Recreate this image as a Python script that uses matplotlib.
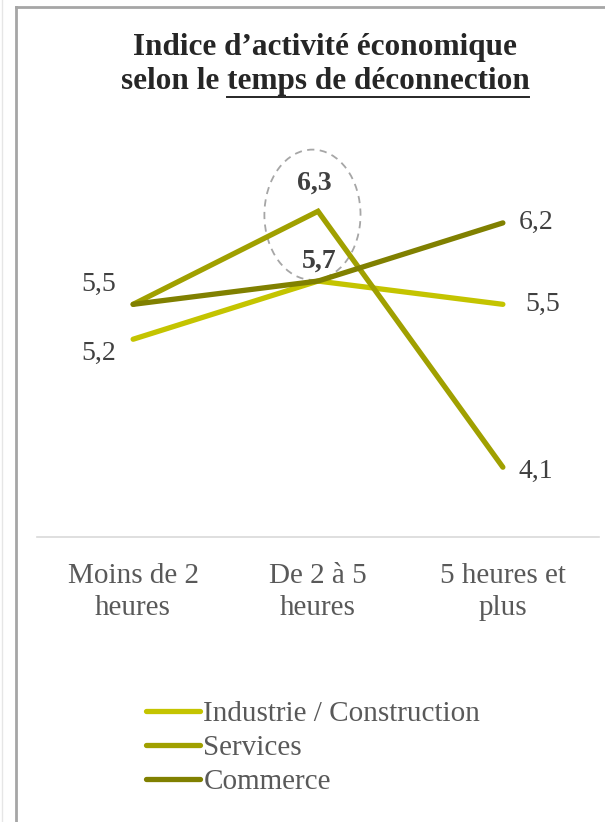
import matplotlib
matplotlib.use('Agg')
import matplotlib.pyplot as plt
from matplotlib.patches import Ellipse
from matplotlib.lines import Line2D

plt.rcParams['font.family'] = 'Liberation Serif'

categories = ['Moins de 2\nheures', 'De 2 à 5\nheures', '5 heures et\nplus']
series = ['Industrie / Construction', 'Services', 'Commerce']
industrie = [5.2, 5.7, 5.5]
services = [5.5, 6.3, 4.1]
commerce = [5.5, 5.7, 6.2]
colors = ['#C4C400', '#A0A000', '#808000']

fig = plt.figure(figsize=(6.05, 8.22), dpi=100)
ax = fig.add_axes([37/605, 1 - 537/822, 562/605, (537 - 188)/822])
x = range(len(categories))

for vals, name, c in zip([industrie, services, commerce], series, colors):
    ax.plot(x, vals, color=c, lw=3.8, solid_capstyle='round',
            solid_joinstyle='miter', label=name)

ax.set_xlim(-0.52, 2.52)
ax.set_ylim(3.5, 6.5)
ax.set_yticks([])
ax.set_xticks(list(x))
ax.set_xticklabels(categories, fontsize=21, color='#595959', linespacing=1.3)
ax.tick_params(axis='x', length=0, pad=19)
for s in ['top', 'left', 'right']:
    ax.spines[s].set_visible(False)
ax.spines['bottom'].set_color('#D9D9D9')
ax.spines['bottom'].set_linewidth(1.2)

lab = dict(fontsize=20, color='#404040', clip_on=False)
fmt = lambda v: f'{v:.1f}'.replace('.', ',')
# left side
ax.annotate(fmt(services[0]), (0, services[0]), xytext=(-25, 14), textcoords='offset points',
            ha='center', va='center', **lab)
ax.annotate(fmt(industrie[0]), (0, industrie[0]), xytext=(-25, -10), textcoords='offset points',
            ha='center', va='center', **lab)
# middle (bold)
ax.annotate(fmt(services[1]), (1, services[1]), xytext=(-3, 20), textcoords='offset points',
            ha='center', va='center', fontweight='bold', **lab)
ax.annotate(fmt(commerce[1]), (1, commerce[1]), xytext=(1, 14), textcoords='offset points',
            ha='center', va='center', fontweight='bold', **lab)
# right side
ax.annotate(fmt(commerce[2]), (2, commerce[2]), xytext=(24, 0), textcoords='offset points',
            ha='center', va='center', **lab)
ax.annotate(fmt(industrie[2]), (2, industrie[2]), xytext=(29, 0), textcoords='offset points',
            ha='center', va='center', **lab)
ax.annotate(fmt(services[2]), (2, services[2]), xytext=(24, -3), textcoords='offset points',
            ha='center', va='center', **lab)

ell = Ellipse((0.97, (services[1] + commerce[1]) / 2 + 0.27), 0.52, 1.12, fill=False,
              edgecolor='#A6A6A6', lw=1.3, ls=(0, (4, 3)), clip_on=False)
ax.add_patch(ell)

# title with underlined part
tfs = 22.5
fig.text(325/605, 1 - 48/822, 'Indice d\u2019activité économique', ha='center', va='center',
         fontsize=tfs, fontweight='bold', color='#262626')
t2 = fig.text(325/605, 1 - 82/822, 'selon le temps de déconnection', ha='center', va='center',
              fontsize=tfs, fontweight='bold', color='#262626')
fig.canvas.draw()
r = fig.canvas.get_renderer()
bb = t2.get_window_extent(r)
tmp = fig.text(0, 0, 'selon le ', fontsize=tfs, fontweight='bold')
w = tmp.get_window_extent(r).width
tmp.remove()
uy = 1 - 97/822
fig.add_artist(Line2D([(bb.x0 + w) / 605, bb.x1 / 605], [uy, uy], color='#262626', lw=1.4))

# legend
leg = fig.legend(loc='upper left', bbox_to_anchor=(146/605, 1 - 701/822), frameon=False,
                 fontsize=21, handlelength=1.85, handletextpad=0.12, labelspacing=0.25,
                 borderpad=0, borderaxespad=0)
for t in leg.get_texts():
    t.set_color('#595959')

# outer frame
fig.add_artist(Line2D([16/605, 16/605], [0, 1 - 7/822], color='#A6A6A6', lw=2))
fig.add_artist(Line2D([16/605, 1], [1 - 7/822, 1 - 7/822], color='#A6A6A6', lw=2))
fig.add_artist(Line2D([1.5/605, 1.5/605], [0, 1], color='#E6E6E6', lw=1))

fig.savefig('out.png', dpi=100)
